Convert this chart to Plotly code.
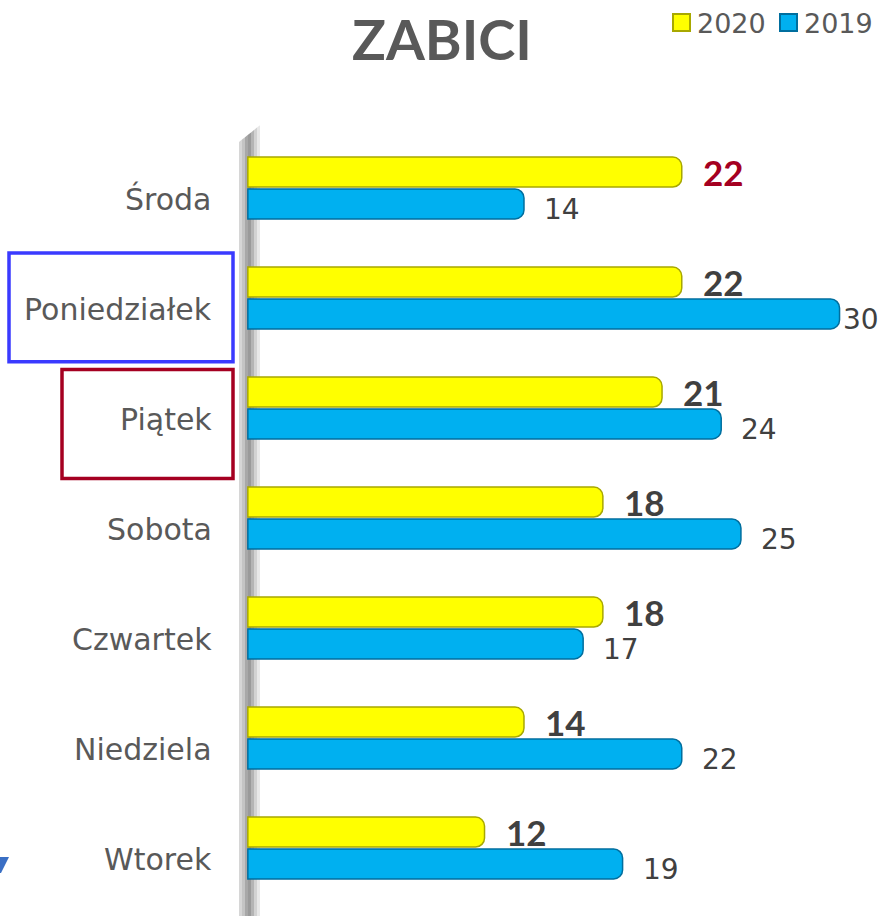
import plotly.graph_objects as go

categories = ["Środa", "Poniedziałek", "Piątek", "Sobota", "Czwartek", "Niedziela", "Wtorek"]
values_2020 = [22, 22, 21, 18, 18, 14, 12]
values_2019 = [14, 30, 24, 25, 17, 22, 19]
series_names = ["2020", "2019"]
series_colors = ["#FFFF00", "#00B0F0"]
series_edges = ["#A8A800", "#006E9E"]

W, H = 884, 916
ML, MR, MT, MB = 237, 5, 133, 13
PW, PH = W - ML - MR, H - MT - MB
XMIN, XMAX = -0.55, 32
UNIT = PW / (XMAX - XMIN)


def px(x):
    return (x - ML) / PW


def py(y):
    return (H - MB - y) / PH


GREY = "#595959"
DARK = "#404040"
RED = "#A50021"

fig = go.Figure()
for name, vals, col, edge in zip(series_names, [values_2020, values_2019], series_colors, series_edges):
    fig.add_trace(go.Bar(
        name=name, y=categories, x=vals, orientation="h", showlegend=False,
        marker=dict(color=col, line=dict(color=edge, width=1.5), cornerradius=9),
        hoverinfo="skip",
    ))

bargap, bargroupgap = 0.42, 0.06
slot = (1 - bargap) / 2

annotations = []
for i, (cat, v20, v19) in enumerate(zip(categories, values_2020, values_2019)):
    annotations.append(dict(
        x=px(214), xref="paper", y=i, yref="y", text=cat, showarrow=False,
        xanchor="right", yanchor="middle", yshift=-11,
        font=dict(family="DejaVu Sans", size=30, color=GREY),
    ))
    annotations.append(dict(
        x=v20, xref="x", y=i - slot / 2, yref="y", text=f"<b>{v20}</b>", showarrow=False,
        xanchor="left", yanchor="middle", xshift=19, yshift=0,
        font=dict(family="Lato", size=35, color=RED if i == 0 else DARK),
    ))
    end_px = ML + (v19 - XMIN) * UNIT
    if end_px + 18 + 38 > W - 2:
        # label would run off the right edge: pull it in against the edge
        lab = dict(x=1, xref="paper", xanchor="right", xshift=2)
    else:
        lab = dict(x=v19, xref="x", xanchor="left", xshift=18)
    annotations.append(dict(
        **lab, y=i + slot / 2, yref="y", text=str(v19), showarrow=False,
        yanchor="middle", yshift=-6,
        font=dict(family="DejaVu Sans", size=28, color=DARK),
    ))

shapes = []
# manual legend
leg_x = [673, 780]
for name, col, edge, lx in zip(series_names, series_colors, series_edges, leg_x):
    shapes.append(dict(type="rect", xref="paper", yref="paper",
                       x0=px(lx), x1=px(lx + 17), y0=py(31), y1=py(14),
                       fillcolor=col, line=dict(color=edge, width=2)))
    annotations.append(dict(x=px(lx + 22), xref="paper", y=py(23), yref="paper", text=name,
                            showarrow=False, xanchor="left", yanchor="middle",
                            font=dict(family="DejaVu Sans", size=27, color=GREY)))

# 3D wall behind the bars
wall = [
    (239, 242, "#d6d6d6"),
    (242, 245, "#c4c4c4"),
    (245, 248, "#a8a8a8"),
    (248, 251, "#9a9a9a"),
    (251, 254, "#b4b4b4"),
    (254, 257, "#d2d2d2"),
    (257, 260, "#e8e8e8"),
]
for x0, x1, c in wall:
    top = 142 - (x0 - 239) * 0.8
    shapes.append(dict(
        type="path", xref="paper", yref="paper", layer="below",
        path=f"M{px(x0)},{py(top)} L{px(x1)},{py(top - 3 * 0.8)} L{px(x1)},{py(916)} L{px(x0)},{py(916)} Z",
        fillcolor=c, line=dict(width=0),
    ))
# highlight boxes around labels
shapes.append(dict(type="rect", xref="paper", yref="y", x0=px(9), x1=px(233), y0=0.59, y1=1.58,
                   line=dict(color="#3A3AFF", width=3.5)))
shapes.append(dict(type="rect", xref="paper", yref="y", x0=px(62), x1=px(233), y0=1.65, y1=2.64,
                   line=dict(color=RED, width=3.5)))
# small blue corner mark
shapes.append(dict(type="path", xref="paper", yref="paper",
                   path=f"M{px(0)},{py(857)} L{px(9)},{py(857)} L{px(1)},{py(873)} L{px(0)},{py(873)} Z",
                   fillcolor="#3A6FC4", line=dict(width=0)))

fig.update_layout(
    width=W, height=H,
    margin=dict(l=ML, r=MR, t=MT, b=MB, autoexpand=False),
    plot_bgcolor="white", paper_bgcolor="white",
    barmode="group", bargap=bargap, bargroupgap=bargroupgap,
    showlegend=False,
    title=dict(text="<b>ZABICI</b>", x=px(442), xref="paper", xanchor="center",
               y=1 - 40 / H, yref="container", yanchor="middle",
               font=dict(family="Lato", size=56, color=GREY)),
    xaxis=dict(range=[XMIN, XMAX], showgrid=False, zeroline=False, showticklabels=False,
               showline=False, ticks=""),
    yaxis=dict(autorange="reversed", showgrid=False, zeroline=False, showticklabels=False,
               showline=False, ticks=""),
    annotations=annotations,
    shapes=shapes,
)

fig.write_html("out.html", config={"displayModeBar": False},
               post_script="document.body.style.margin='0';document.body.style.overflow='hidden';")
